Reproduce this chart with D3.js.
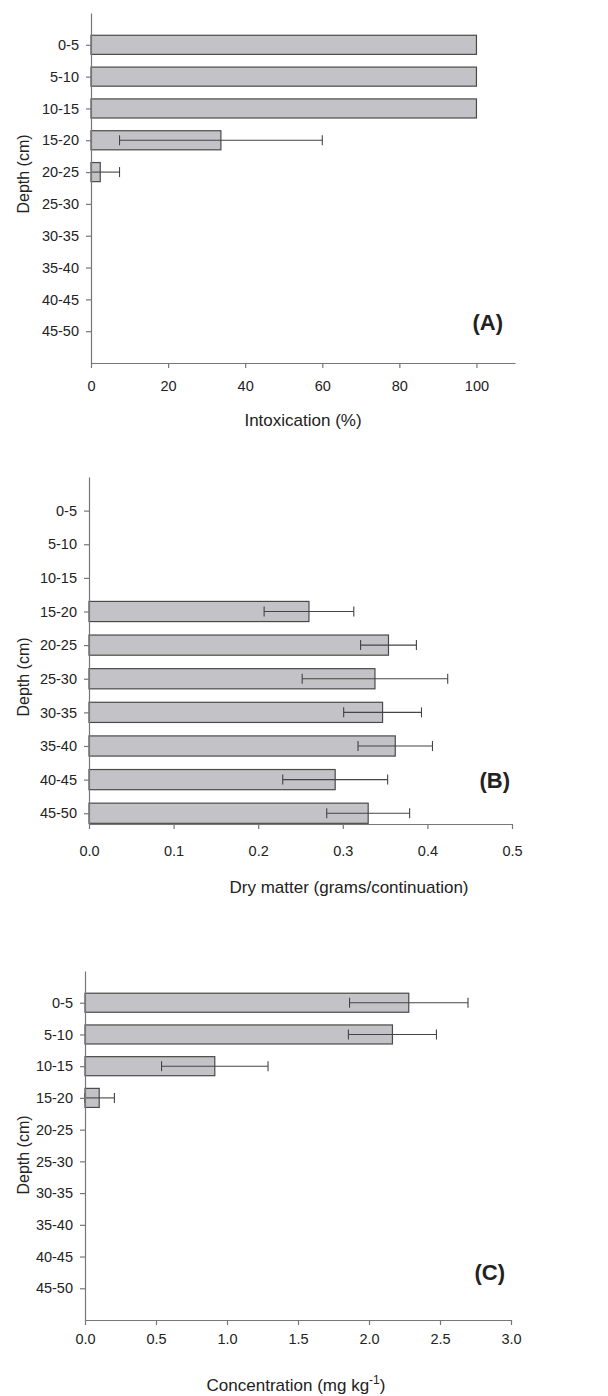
<!DOCTYPE html>
<html>
<head>
<meta charset="utf-8">
<script src="https://cdn.jsdelivr.net/npm/d3@7"></script>
<style>
body { margin: 0; background: #fff; }
text { font-family: "Liberation Sans", Arial, sans-serif; fill: #222; }
</style>
</head>
<body>
<div id="chart"></div>
<script>
var depths = ["0-5","5-10","10-15","15-20","20-25","25-30","30-35","35-40","40-45","45-50"]

// panel A: intoxication (%)
var intoxMean = [100, 100, 100, 33.7, 2.4, null, null, null, null, null]
var intoxErr  = [0, 0, 0, 26.3, 5.0, null, null, null, null, null]
var intoxTicks = [0, 20, 40, 60, 80, 100]

// panel B: dry matter (grams/continuation)
var dryMean = [null, null, null, 0.260, 0.354, 0.338, 0.347, 0.362, 0.291, 0.330]
var dryErr  = [null, null, null, 0.053, 0.033, 0.086, 0.046, 0.044, 0.062, 0.049]
var dryTicks = [0.0, 0.1, 0.2, 0.3, 0.4, 0.5]

// panel C: concentration (mg kg-1)
var concMean = [2.28, 2.165, 0.914, 0.10, null, null, null, null, null, null]
var concErr  = [0.417, 0.31, 0.375, 0.107, null, null, null, null, null, null]
var concTicks = [0.0, 0.5, 1.0, 1.5, 2.0, 2.5, 3.0]

var svg = d3.select("#chart")
.append("svg")
.attr("width",608)
.attr("height",1396)

function barPanel(o){
    var xScale = d3.scaleLinear()
    .domain(o.xDomain)
    .range([o.left,o.right])

    // depth index 1..10 laid on a linear scale so the top gap is one step
    var yScale = d3.scaleLinear()
    .domain([0,o.yMax])
    .range([o.top,o.bottom])
    var step = yScale(1)-yScale(0)
    var bh = step*0.6

    var rows = o.mean.map(function(m,i){return {i:i+1,m:m,e:o.err[i]}})
        .filter(function(d){return d.m!=null})

    svg.append("g").selectAll("rect")
    .data(rows)
    .enter().append("rect")
    .attr("x",xScale(0))
    .attr("y",function(d){return yScale(d.i)-bh/2})
    .attr("width",function(d){return xScale(d.m)-xScale(0)})
    .attr("height",bh)
    .attr("fill","#c3c3c7")
    .attr("stroke","#4a4a4a")
    .attr("stroke-width",1.2)

    var eb = svg.append("g").attr("stroke","#444").attr("stroke-width",1.1)
    rows.filter(function(d){return d.e>0}).forEach(function(d){
        var lo = Math.max(0,d.m-d.e), hi = d.m+d.e, yy = yScale(d.i)
        eb.append("line").attr("x1",xScale(lo)).attr("x2",xScale(hi)).attr("y1",yy).attr("y2",yy)
        eb.append("line").attr("x1",xScale(hi)).attr("x2",xScale(hi)).attr("y1",yy-5).attr("y2",yy+5)
        if(d.m-d.e>=-0.01*o.xDomain[1]){
            eb.append("line").attr("x1",xScale(lo)).attr("x2",xScale(lo)).attr("y1",yy-5).attr("y2",yy+5)
        }
    })

    var xAxis = d3.axisBottom(xScale)
    .tickValues(o.ticks)
    .tickFormat(o.fmt)
    .tickSize(5)
    .tickSizeOuter(0)
    .tickPadding(o.xPad)
    var yAxis = d3.axisLeft(yScale)
    .tickValues(d3.range(1,11))
    .tickFormat(function(i){return depths[i-1]})
    .tickSize(5)
    .tickSizeOuter(0)
    .tickPadding(7)

    var gx = svg.append("g").call(xAxis).attr("transform","translate(0,"+o.bottom+")")
    var gy = svg.append("g").call(yAxis).attr("transform","translate("+o.left+",0)")
    ;[gx,gy].forEach(function(g){
        g.selectAll("path,line").attr("stroke","#777").attr("stroke-width",1.2)
        g.selectAll("text").style("font-size","14.5px").attr("fill","#222")
        g.attr("font-family",null)
    })

    svg.append("text")
    .text("Depth (cm)")
    .attr("transform","translate(29,"+o.depthY+") rotate(-90)")
    .attr("text-anchor","middle")
    .style("font-size","16px")

    var t = svg.append("text")
    .attr("x",o.titleX)
    .attr("y",o.titleY)
    .attr("text-anchor","middle")
    .style("font-size","17px")
    t.append("tspan").text(o.title)
    if(o.sup){
        t.append("tspan").text(o.sup).attr("dy",-7).style("font-size","12px")
        t.append("tspan").text(")").attr("dy",7)
    }

    svg.append("text")
    .text(o.tag)
    .attr("x",o.tagX)
    .attr("y",o.tagY)
    .attr("text-anchor","end")
    .style("font-size","22px")
    .style("font-weight","bold")
}

barPanel({mean:intoxMean,err:intoxErr,ticks:intoxTicks,fmt:d3.format("d"),
    xDomain:[0,110],left:91,right:515,top:13,bottom:363,yMax:11,xPad:13,
    depthY:174,title:"Intoxication (%)",titleX:303,titleY:426,tag:"(A)",tagX:503,tagY:330})

barPanel({mean:dryMean,err:dryErr,ticks:dryTicks,fmt:d3.format(".1f"),
    xDomain:[0,0.5],left:89,right:512,top:477,bottom:824,yMax:10.32,xPad:17,
    depthY:677,title:"Dry matter (grams/continuation)",titleX:349,titleY:893,tag:"(B)",tagX:510,tagY:788})

barPanel({mean:concMean,err:concErr,ticks:concTicks,fmt:d3.format(".1f"),
    xDomain:[0,3],left:85,right:511,top:971,bottom:1320,yMax:11,xPad:9,
    depthY:1155,title:"Concentration (mg kg",sup:"-1",titleX:296,titleY:1391,tag:"(C)",tagX:505,tagY:1280})
</script>
</body>
</html>
